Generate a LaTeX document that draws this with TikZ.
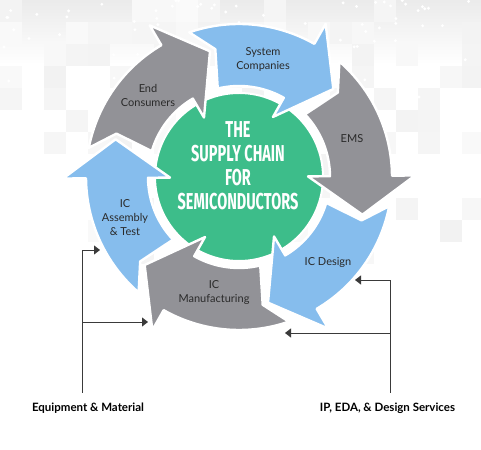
\documentclass[tikz,border=0pt]{standalone}
\usepackage{fontspec}
\usepackage{graphicx}
\usetikzlibrary{arrows.meta}
\newfontfamily\lato{Lato}
\newfontfamily\ctrfont{Fira Sans}
\definecolor{arrowblue}{HTML}{86BDED}
\definecolor{arrowgray}{HTML}{929297}
\definecolor{coregreen}{HTML}{3DBD8A}
\definecolor{labelink}{HTML}{2A2A2A}
\definecolor{connink}{HTML}{3A3A3A}
% curved ring arrow: #1 = angle of the head base, #2 = colour
\newcommand\ringarrow[2]{%
  \pgfmathsetmacro\raTail{#1+48.5}%
  \pgfmathsetmacro\raNotch{#1+40}%
  \pgfmathsetmacro\raInner{#1+43}%
  \pgfmathsetmacro\raTip{#1-17.5}%
  \path[ringpiece, fill=#2] (\raTail:153pt)
    arc[start angle=\raTail, end angle=#1, radius=153pt]
    -- (#1:176pt) -- (\raTip:129pt) -- (#1:69pt) -- (#1:91pt)
    arc[start angle=#1, end angle=\raInner, radius=91pt]
    -- (\raNotch:130pt) -- cycle;
}
\begin{document}
\begin{tikzpicture}[
  ringpiece/.style={draw=white, line width=2.4pt, line join=round},
  lbl/.style={font=\lato\fontsize{11}{14}\selectfont, text=labelink, align=center, inner sep=0pt},
  botlbl/.style={font=\lato\bfseries\fontsize{11.5}{13}\selectfont, text=black, inner sep=0pt},
  conn/.style={draw=connink, line width=0.9pt, -{Triangle[length=6pt,width=9pt]}},
]
\useasboundingbox (0pt,0pt) rectangle (481pt,449pt);
\fill[white] (0pt,0pt) rectangle (481pt,449pt);
% faint background pattern
\shade[top color=black!8, bottom color=white] (0pt,449pt) rectangle (481pt,385pt);
\pgfmathsetseed{5}
\foreach \i in {0,...,21}{%
  \foreach \j in {0,...,11}{%
    \pgfmathsetmacro\cellr{rnd}%
    \pgfmathsetmacro\cellt{0.55-0.045*\j}%
    \pgfmathsetmacro\cellk{2+3*rnd}%
    \pgfmathsetmacro\cellx{22*\i}%
    \pgfmathsetmacro\celly{449-22*\j}%
    \ifdim\cellr pt<\cellt pt
      \fill[black!\cellk] (\cellx pt,\celly pt) rectangle ++(22pt,-22pt);
    \fi
  }%
}
\foreach \k in {1,...,70}{%
  \pgfmathsetmacro\dotx{rnd*481}%
  \pgfmathsetmacro\doty{449-rnd*rnd*120}%
  \fill[white] (\dotx pt,\doty pt) circle[radius=1.6pt];
}
% core
\node[circle, fill=coregreen, draw=white, line width=2pt, minimum size=168pt, inner sep=0pt] (core) at (239pt,272pt) {};
% ring of arrows
\begin{scope}[shift={(239pt,272pt)}]
  \ringarrow{60.5}{arrowblue}
  \ringarrow{0.5}{arrowgray}
  \ringarrow{-59.5}{arrowblue}
  \ringarrow{-119.5}{arrowgray}
  \ringarrow{180.5}{arrowblue}
  \ringarrow{120.5}{arrowgray}
\end{scope}
% title
\node[text=white, inner sep=0pt] (title) at (238pt,280pt)
  {\scalebox{0.63}[1]{\ctrfont\bfseries\fontsize{23}{24}\selectfont
   \begin{tabular}{@{}c@{}}THE\\SUPPLY CHAIN\\FOR\\SEMICONDUCTORS\end{tabular}}};
% labels
\node[lbl] (lSys) at (263pt,390pt) {System\\Companies};
\node[lbl] (lEnd) at (148pt,354pt) {End\\Consumers};
\node[lbl] (lEMS) at (352pt,310pt) {EMS};
\node[lbl] (lAsm) at (125pt,231pt) {IC\\Assembly\\\& Test};
\node[lbl] (lDes) at (328pt,187pt) {IC Design};
\node[lbl] (lMfg) at (214pt,156.5pt) {IC\\Manufacturing};
\node[botlbl] (equip) at (88pt,41pt) {Equipment \& Material};
\node[botlbl] (ipeda) at (387.5pt,41pt) {IP, EDA, \& Design Services};
% connectors
\coordinate (eqbase) at (82pt,56pt);
\coordinate (asmT) at (100pt,199pt);
\coordinate (mfgL) at (148pt,127pt);
\coordinate (ipbase) at (390pt,56pt);
\coordinate (desT) at (355pt,169pt);
\coordinate (mfgR) at (285pt,116pt);
\draw[conn] (eqbase) |- (asmT);
\draw[conn] (eqbase |- mfgL) -- (mfgL);
\draw[conn] (ipbase) |- (desT);
\draw[conn] (ipbase |- mfgR) -- (mfgR);
\end{tikzpicture}
\end{document}
